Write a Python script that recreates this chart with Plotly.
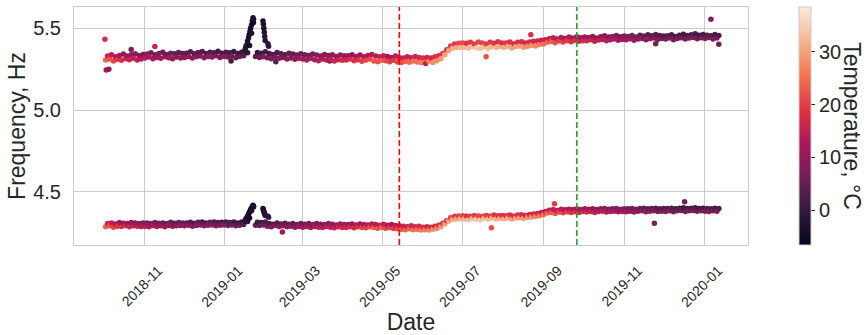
import plotly.graph_objects as go
import pandas as pd

# sampling: one day reading and one night reading every 3 days
start_date = "2018-10-02"
n_dates = 156

# temperature, degC (day / night readings), one line per month Oct 2018 .. Jan 2020
temp_day = [
    24, 22, 21, 19, 18, 17, 16, 15, 15, 14,
    14, 13, 13, 12, 12, 11, 11, 10, 10, 10,
    10, 9, 10, 9, 8, 9, 10, 9, 8, 8, 9,
    7, 6, 6, 5, 4, -1, -3, 5, 6, 7,
    7, 8, 8, 9, 9, 10, 10, 11, 11,
    12, 12, 13, 13, 14, 14, 15, 15, 16, 16, 17,
    17, 18, 18, 19, 20, 21, 21, 22, 22, 23,
    21, 20, 20, 21, 22, 23, 24, 25, 25, 26,
    26, 27, 28, 28, 29, 30, 30, 31, 31, 32,
    32, 33, 33, 34, 34, 33, 33, 32, 32, 31,
    31, 31, 30, 30, 29, 29, 28, 28, 27, 26, 25,
    24, 23, 22, 21, 20, 20, 19, 18, 17, 17,
    17, 16, 16, 15, 14, 14, 13, 13, 12, 12,
    12, 11, 11, 10, 10, 9, 9, 9, 8, 8,
    8, 8, 7, 7, 6, 7, 8, 7, 6, 7,
    8, 8, 7, 8,
]
temp_night = [
    16, 15, 13, 12, 11, 10, 10, 9, 9, 8,
    8, 8, 7, 7, 6, 6, 6, 5, 5, 5,
    4, 4, 3, 4, 3, 3, 4, 3, 2, 2, 3,
    2, 1, 1, 0, -1, -4, -5, 0, 1, 2,
    2, 3, 3, 4, 4, 5, 5, 6, 6,
    6, 7, 7, 8, 8, 9, 9, 10, 10, 11, 11,
    11, 11, 12, 12, 13, 13, 14, 14, 15, 15,
    13, 13, 14, 14, 15, 15, 16, 17, 17, 18,
    17, 17, 18, 18, 19, 19, 20, 20, 21, 21,
    19, 20, 20, 21, 21, 20, 20, 19, 19, 18,
    19, 19, 18, 18, 18, 17, 17, 17, 16, 16, 15,
    15, 15, 14, 14, 13, 13, 12, 12, 11, 11,
    11, 10, 10, 9, 9, 8, 8, 8, 7, 7,
    7, 6, 6, 5, 5, 4, 4, 4, 3, 3,
    3, 3, 2, 2, 1, 2, 3, 2, 1, 2,
    3, 3, 2, 3,
]

# second mode frequency, Hz
upper_day = [
    5.306, 5.312, 5.300, 5.310, 5.304, 5.314, 5.308, 5.316, 5.306, 5.312,
    5.318, 5.324, 5.314, 5.322, 5.316, 5.326, 5.320, 5.314, 5.324, 5.318,
    5.322, 5.328, 5.318, 5.326, 5.330, 5.320, 5.328, 5.324, 5.332, 5.322, 5.328,
    5.324, 5.330, 5.320, 5.328, 5.332, 5.350, 5.470, 5.328, 5.322, 5.326,
    5.320, 5.314, 5.324, 5.316, 5.322, 5.312, 5.318, 5.310, 5.316,
    5.312, 5.306, 5.316, 5.308, 5.302, 5.312, 5.306, 5.310, 5.300, 5.308, 5.304,
    5.306, 5.312, 5.302, 5.308, 5.298, 5.306, 5.312, 5.300, 5.296, 5.304,
    5.302, 5.296, 5.304, 5.294, 5.290, 5.298, 5.292, 5.300, 5.294, 5.290,
    5.292, 5.298, 5.290, 5.302, 5.314, 5.338, 5.364, 5.378, 5.382, 5.384,
    5.384, 5.378, 5.388, 5.380, 5.376, 5.386, 5.378, 5.390, 5.382, 5.388,
    5.384, 5.390, 5.380, 5.388, 5.392, 5.384, 5.390, 5.396, 5.392, 5.400, 5.404,
    5.414, 5.420, 5.412, 5.422, 5.416, 5.424, 5.418, 5.426, 5.420, 5.424,
    5.424, 5.430, 5.420, 5.428, 5.432, 5.424, 5.430, 5.434, 5.426, 5.432,
    5.430, 5.436, 5.426, 5.434, 5.438, 5.430, 5.436, 5.440, 5.432, 5.438,
    5.434, 5.440, 5.430, 5.438, 5.442, 5.434, 5.440, 5.444, 5.436, 5.442,
    5.438, 5.444, 5.434, 5.440,
]
upper_night = [
    5.330, 5.338, 5.326, 5.334, 5.342, 5.330, 5.338, 5.344, 5.334, 5.340,
    5.342, 5.350, 5.338, 5.346, 5.354, 5.340, 5.348, 5.344, 5.352, 5.346,
    5.348, 5.356, 5.344, 5.352, 5.358, 5.346, 5.354, 5.350, 5.360, 5.348, 5.354,
    5.350, 5.358, 5.346, 5.354, 5.360, 5.395, 5.535, 5.352, 5.348, 5.356,
    5.346, 5.340, 5.352, 5.344, 5.338, 5.348, 5.342, 5.336, 5.344,
    5.338, 5.334, 5.342, 5.336, 5.330, 5.340, 5.334, 5.338, 5.328, 5.336, 5.332,
    5.332, 5.338, 5.328, 5.336, 5.326, 5.334, 5.340, 5.330, 5.326, 5.332,
    5.328, 5.322, 5.330, 5.320, 5.318, 5.326, 5.320, 5.328, 5.322, 5.318,
    5.322, 5.318, 5.326, 5.332, 5.346, 5.368, 5.392, 5.404, 5.408, 5.410,
    5.408, 5.414, 5.404, 5.416, 5.410, 5.404, 5.414, 5.408, 5.418, 5.410,
    5.410, 5.416, 5.406, 5.414, 5.418, 5.410, 5.416, 5.420, 5.422, 5.426, 5.430,
    5.436, 5.442, 5.434, 5.444, 5.438, 5.446, 5.440, 5.448, 5.442, 5.446,
    5.444, 5.450, 5.440, 5.448, 5.454, 5.446, 5.450, 5.456, 5.448, 5.452,
    5.450, 5.456, 5.446, 5.458, 5.452, 5.460, 5.454, 5.462, 5.456, 5.452,
    5.454, 5.460, 5.450, 5.458, 5.464, 5.456, 5.460, 5.466, 5.458, 5.462,
    5.458, 5.454, 5.462, 5.456,
]

# first mode frequency, Hz
lower_day = [
    4.286, 4.292, 4.284, 4.290, 4.288, 4.294, 4.286, 4.292, 4.290, 4.288,
    4.290, 4.286, 4.294, 4.288, 4.292, 4.286, 4.294, 4.290, 4.292, 4.294,
    4.292, 4.296, 4.290, 4.294, 4.298, 4.292, 4.296, 4.298, 4.292, 4.296, 4.298,
    4.294, 4.298, 4.292, 4.296, 4.300, 4.318, 4.385, 4.296, 4.294, 4.298,
    4.290, 4.286, 4.294, 4.288, 4.292, 4.286, 4.290, 4.284, 4.288,
    4.284, 4.288, 4.282, 4.288, 4.284, 4.282, 4.288, 4.284, 4.280, 4.286, 4.282,
    4.282, 4.286, 4.280, 4.286, 4.282, 4.280, 4.286, 4.282, 4.278, 4.284,
    4.278, 4.282, 4.276, 4.274, 4.272, 4.268, 4.274, 4.268, 4.272, 4.266,
    4.268, 4.266, 4.272, 4.276, 4.286, 4.304, 4.322, 4.332, 4.334, 4.336,
    4.334, 4.330, 4.338, 4.334, 4.330, 4.338, 4.334, 4.340, 4.334, 4.338,
    4.336, 4.340, 4.334, 4.340, 4.342, 4.338, 4.344, 4.346, 4.350, 4.354, 4.360,
    4.370, 4.374, 4.368, 4.376, 4.372, 4.378, 4.374, 4.378, 4.374, 4.380,
    4.376, 4.380, 4.374, 4.380, 4.382, 4.376, 4.380, 4.382, 4.378, 4.380,
    4.378, 4.382, 4.376, 4.382, 4.384, 4.378, 4.382, 4.384, 4.380, 4.382,
    4.380, 4.384, 4.378, 4.384, 4.386, 4.380, 4.384, 4.386, 4.382, 4.384,
    4.382, 4.380, 4.384, 4.382,
]
lower_night = [
    4.306, 4.310, 4.304, 4.312, 4.308, 4.306, 4.312, 4.310, 4.306, 4.310,
    4.310, 4.306, 4.312, 4.308, 4.310, 4.306, 4.314, 4.308, 4.312, 4.310,
    4.310, 4.314, 4.308, 4.314, 4.316, 4.310, 4.314, 4.316, 4.312, 4.314, 4.316,
    4.312, 4.316, 4.310, 4.316, 4.318, 4.340, 4.408, 4.314, 4.312, 4.316,
    4.306, 4.302, 4.310, 4.304, 4.308, 4.302, 4.306, 4.300, 4.306,
    4.302, 4.306, 4.300, 4.306, 4.302, 4.300, 4.306, 4.302, 4.298, 4.304, 4.300,
    4.300, 4.304, 4.298, 4.304, 4.300, 4.298, 4.304, 4.300, 4.296, 4.302,
    4.296, 4.300, 4.294, 4.292, 4.290, 4.286, 4.292, 4.286, 4.290, 4.284,
    4.286, 4.284, 4.290, 4.296, 4.308, 4.324, 4.342, 4.350, 4.352, 4.354,
    4.352, 4.350, 4.356, 4.352, 4.350, 4.356, 4.352, 4.358, 4.354, 4.356,
    4.354, 4.358, 4.352, 4.358, 4.360, 4.356, 4.362, 4.364, 4.368, 4.374, 4.380,
    4.388, 4.392, 4.386, 4.394, 4.390, 4.394, 4.392, 4.396, 4.392, 4.396,
    4.394, 4.396, 4.392, 4.396, 4.398, 4.394, 4.396, 4.398, 4.394, 4.396,
    4.396, 4.398, 4.394, 4.398, 4.400, 4.396, 4.398, 4.400, 4.396, 4.398,
    4.398, 4.400, 4.396, 4.400, 4.402, 4.398, 4.400, 4.402, 4.398, 4.400,
    4.398, 4.396, 4.400, 4.398,
]

# frost event, January 2019
frost_times = [
    "2019-01-16 12:00", "2019-01-17 00:00", "2019-01-17 12:00", "2019-01-18 12:00",
    "2019-01-19 06:00", "2019-01-19 18:00", "2019-01-20 08:00", "2019-01-20 20:00",
    "2019-01-21 12:00", "2019-01-22 04:00", "2019-01-22 16:00", "2019-01-23 04:00",
    "2019-01-30 06:00", "2019-01-30 14:00", "2019-01-30 22:00", "2019-01-31 06:00",
    "2019-01-31 14:00", "2019-01-31 22:00", "2019-02-03 00:00", "2019-02-03 12:00",
]
frost_upper = [5.365, 5.38, 5.395, 5.42, 5.44, 5.46, 5.48, 5.50, 5.52, 5.545, 5.565, 5.555,
               5.545, 5.525, 5.50, 5.475, 5.45, 5.425, 5.405, 5.39]
frost_lower = [4.322, 4.330, 4.338, 4.350, 4.362, 4.372, 4.382, 4.392, 4.400, 4.410, 4.418, 4.412,
               4.398, 4.390, 4.380, 4.372, 4.364, 4.356, 4.350, 4.344]
frost_temp = [-1, -2, -2, -3, -3, -4, -4, -4, -4, -4, -4, -3,
              -3, -3, -3, -2, -2, -2, -1, -1]

# isolated readings
out_times = ["2018-10-02", "2018-10-03", "2018-10-05", "2018-10-22", "2018-11-09", "2019-01-06",
             "2019-02-09", "2019-03-22", "2019-06-03", "2019-07-19", "2019-08-22", "2019-11-25",
             "2020-01-06", "2020-01-12", "2019-02-14", "2019-07-23", "2019-09-09", "2019-11-24",
             "2019-12-17"]
out_freq = [5.433, 5.245, 5.25, 5.37, 5.388, 5.300, 5.295, 5.300, 5.285, 5.326, 5.46, 5.405,
            5.555, 5.402, 4.255, 4.280, 4.427, 4.308, 4.439]
out_temp = [18, 12, 10, 8, 16, 2, 4, 8, 15, 22, 18, 6, 8, 6, 12, 22, 20, 7, 6]

red_line = "2019-05-14"
green_line = "2019-09-26"

x_ticks = ["2018-11-01", "2019-01-01", "2019-03-01", "2019-05-01", "2019-07-01",
           "2019-09-01", "2019-11-01", "2020-01-01"]

rocket = [[0.0, "#03051a"], [0.143, "#35193e"], [0.286, "#701f57"], [0.429, "#ad1759"],
          [0.571, "#e13342"], [0.714, "#f37651"], [0.857, "#f6b48f"], [1.0, "#faebdd"]]

dates = pd.date_range(start_date, periods=n_dates, freq="3D")
day_t = dates + pd.Timedelta(hours=13)
night_t = dates + pd.Timedelta(hours=49)

parts = [
    pd.DataFrame({"t": day_t, "f": upper_day, "T": temp_day}),
    pd.DataFrame({"t": night_t, "f": upper_night, "T": temp_night}),
    pd.DataFrame({"t": day_t, "f": lower_day, "T": temp_day}),
    pd.DataFrame({"t": night_t, "f": lower_night, "T": temp_night}),
    pd.DataFrame({"t": pd.to_datetime(frost_times), "f": frost_upper, "T": frost_temp}),
    pd.DataFrame({"t": pd.to_datetime(frost_times), "f": frost_lower, "T": frost_temp}),
    pd.DataFrame({"t": pd.to_datetime(out_times), "f": out_freq, "T": out_temp}),
]
df = pd.concat(parts).sort_values("t", kind="stable")

font = "Arial, Liberation Sans, sans-serif"
txt = "#262626"
grid = "#cccccc"

fig = go.Figure()
fig.add_trace(go.Scatter(
    x=df["t"], y=df["f"], mode="markers",
    marker=dict(size=5.5, color=df["T"], colorscale=rocket, cmin=-6.6, cmax=38.5,
                line=dict(width=0),
                colorbar=dict(thickness=12, len=1, lenmode="fraction", y=0.5, yanchor="middle",
                              x=1.076, xanchor="left", xpad=0, ypad=0,
                              outlinewidth=1, outlinecolor=grid,
                              tickvals=[0, 10, 20, 30], ticks="outside", ticklen=4,
                              tickcolor=txt, tickfont=dict(size=20, color=txt, family=font))),
    showlegend=False,
))

for d, c in [(red_line, "red"), (green_line, "#2ca02c")]:
    fig.add_shape(type="line", x0=d, x1=d, xref="x", y0=0, y1=1, yref="paper",
                  line=dict(color=c, width=1.6, dash="6px,3px"))

fig.add_annotation(text="Temperature, °C", textangle=90, x=1.154, y=0.5, xref="paper",
                   yref="paper", xanchor="center", yanchor="middle", showarrow=False,
                   font=dict(size=23, color=txt, family=font))

fig.update_layout(
    width=868, height=335,
    margin=dict(l=74, r=120, t=7, b=90, autoexpand=False),
    paper_bgcolor="white", plot_bgcolor="white",
    font=dict(family=font, color=txt),
    xaxis=dict(range=["2018-09-08 12:00", "2020-02-03 05:00"], tickvals=x_ticks,
               tickformat="%Y-%m", tickangle=-45, tickfont=dict(size=14),
               ticklabelshift=14, ticklabelstandoff=11, automargin=False,
               showgrid=True, gridcolor=grid, gridwidth=1, showline=True, linecolor=grid,
               mirror=True, zeroline=False,
               title=dict(text="Date", font=dict(size=23), standoff=0)),
    yaxis=dict(range=[4.175, 5.63], tickvals=[4.5, 5.0, 5.5], ticktext=["4.5", "5.0", "5.5"],
               tickfont=dict(size=20), ticklabelstandoff=8, automargin=False,
               showgrid=True, gridcolor=grid, gridwidth=1, showline=True, linecolor=grid,
               mirror=True, zeroline=False,
               title=dict(text="Frequency, Hz", font=dict(size=23), standoff=1)),
)

fig.write_html("out.html", config={"displayModeBar": False},
               post_script="document.body.style.margin = '0';")
